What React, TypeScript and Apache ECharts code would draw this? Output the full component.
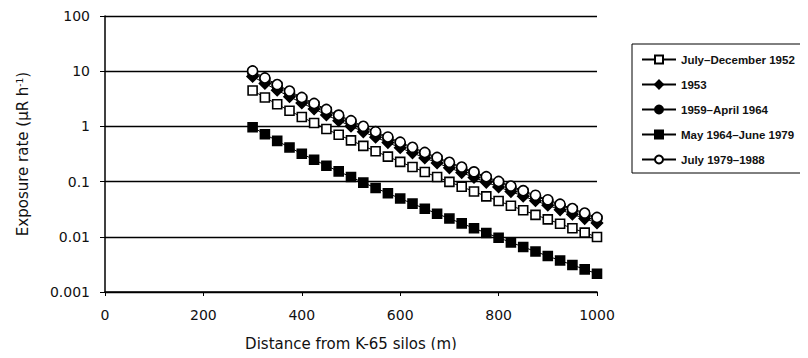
import React, { useEffect, useRef } from "react";
import * as echarts from "echarts";

const distances = [300, 325, 350, 375, 400, 425, 450, 475, 500, 525, 550, 575, 600, 625, 650, 675, 700, 725, 750, 775, 800, 825, 850, 875, 900, 925, 950, 975, 1000];

const julyDec1952 = [4.47, 3.34, 2.52, 1.92, 1.48, 1.15, 0.896, 0.707, 0.559, 0.444, 0.354, 0.284, 0.228, 0.184, 0.149, 0.121, 0.0989, 0.0809, 0.0661, 0.0541, 0.0445, 0.0366, 0.0303, 0.025, 0.0207, 0.0172, 0.0143, 0.0119, 0.00989];
const y1953 = [8.05, 6.01, 4.54, 3.46, 2.66, 2.07, 1.61, 1.27, 1.01, 0.799, 0.637, 0.511, 0.411, 0.332, 0.269, 0.218, 0.178, 0.146, 0.119, 0.0973, 0.0801, 0.066, 0.0545, 0.045, 0.0373, 0.0309, 0.0257, 0.0214, 0.0178];
const y1959Apr1964 = [9.68, 7.22, 5.46, 4.16, 3.2, 2.49, 1.94, 1.53, 1.21, 0.96, 0.766, 0.614, 0.494, 0.399, 0.323, 0.262, 0.214, 0.175, 0.143, 0.117, 0.0963, 0.0793, 0.0655, 0.0541, 0.0448, 0.0372, 0.0309, 0.0257, 0.0214];
const may1964Jun1979 = [0.968, 0.722, 0.546, 0.416, 0.32, 0.249, 0.194, 0.153, 0.121, 0.096, 0.0766, 0.0614, 0.0494, 0.0399, 0.0323, 0.0262, 0.0214, 0.0175, 0.0143, 0.0117, 0.00963, 0.00793, 0.00655, 0.00541, 0.00448, 0.00372, 0.00309, 0.00257, 0.00214];
const july1979_1988 = [10.1, 7.56, 5.72, 4.36, 3.35, 2.61, 2.03, 1.6, 1.27, 1.005, 0.802, 0.643, 0.517, 0.418, 0.338, 0.274, 0.224, 0.183, 0.15, 0.1225, 0.1008, 0.083, 0.0686, 0.0566, 0.0469, 0.0389, 0.0324, 0.0269, 0.0224];

const seriesNames = ["July–December 1952", "1953", "1959–April 1964", "May 1964–June 1979", "July 1979–1988"];
const yTickLabels: Record<string, string> = { "0.001": "0.001", "0.01": "0.01", "0.1": "0.1", "1": "1", "10": "10", "100": "100" };

const FONT = "'DejaVu Sans', 'Liberation Sans', Arial, sans-serif";
const LEGEND_FONT = "'Liberation Sans', Arial, Helvetica, sans-serif";

export default function App() {
  const ref = useRef<HTMLDivElement>(null);
  useEffect(() => {
    if (!ref.current) return;
    const chart = echarts.init(ref.current, null, { renderer: "svg" });
    const pair = (vals: number[]) => distances.map((d, i) => [d, vals[i]]);
    const mk = (name: string, vals: number[], symbol: string, size: number, fill: string) => ({
      name,
      type: "line",
      data: pair(vals),
      symbol,
      symbolSize: size,
      showAllSymbol: true,
      lineStyle: { color: "#000", width: 1 },
      itemStyle: { color: fill, borderColor: "#000", borderWidth: 1.6 },
      emphasis: { disabled: true },
    });
    chart.setOption({
      animation: false,
      backgroundColor: "#fff",
      textStyle: { fontFamily: FONT },
      grid: { left: 105, right: 211, top: 16, bottom: 66, containLabel: false },
      xAxis: {
        type: "value",
        min: 0,
        max: 1000,
        interval: 200,
        name: "Distance from K-65 silos (m)",
        nameLocation: "middle",
        nameGap: 44,
        nameTextStyle: { color: "#111", fontSize: 15, fontFamily: FONT },
        axisLine: { show: true, lineStyle: { color: "#000", width: 1.5 } },
        axisTick: { show: true, length: 4, lineStyle: { color: "#000", width: 1 } },
        axisLabel: { color: "#111", fontSize: 14, margin: 16, fontFamily: FONT, formatter: (v: number) => String(v) },
        splitLine: { show: false },
      },
      yAxis: {
        type: "log",
        logBase: 10,
        min: 0.001,
        max: 100,
        name: "Exposure rate (µR h{sup|-1})",
        nameLocation: "middle",
        nameGap: 74,
        nameRotate: 90,
        nameTextStyle: {
          color: "#111",
          fontSize: 15,
          fontFamily: FONT,
          rich: { sup: { fontSize: 9, verticalAlign: "top", padding: [0, 0, 7, 0], color: "#111", fontFamily: FONT } },
        },
        axisLine: { show: true, lineStyle: { color: "#000", width: 1.5 } },
        axisTick: { show: true, length: 5, lineStyle: { color: "#000", width: 1 } },
        axisLabel: {
          color: "#111",
          fontSize: 14,
          margin: 15,
          fontFamily: FONT,
          formatter: (v: number) => yTickLabels[String(+v.toPrecision(3))] ?? String(v),
        },
        splitLine: { show: true, lineStyle: { color: "#000", width: 1.3 } },
      },
      legend: {
        orient: "vertical",
        left: 632,
        top: 44,
        itemWidth: 34,
        itemHeight: 10,
        itemGap: 10,
        padding: [8, 10, 6, 9],
        borderColor: "#000",
        borderWidth: 1,
        data: seriesNames,
        textStyle: { color: "#111", fontSize: 11.5, lineHeight: 15, fontWeight: "bold", fontFamily: LEGEND_FONT },
      },
      series: [
        mk(seriesNames[0], julyDec1952, "rect", 9, "#fff"),
        mk(seriesNames[1], y1953, "diamond", 11, "#000"),
        mk(seriesNames[2], y1959Apr1964, "circle", 10, "#000"),
        mk(seriesNames[3], may1964Jun1979, "rect", 9, "#000"),
        mk(seriesNames[4], july1979_1988, "circle", 10, "#fff"),
      ],
    });
    return () => chart.dispose();
  }, []);
  return <div ref={ref} style={{ width: 808, height: 358, margin: -8 }} />;
}
